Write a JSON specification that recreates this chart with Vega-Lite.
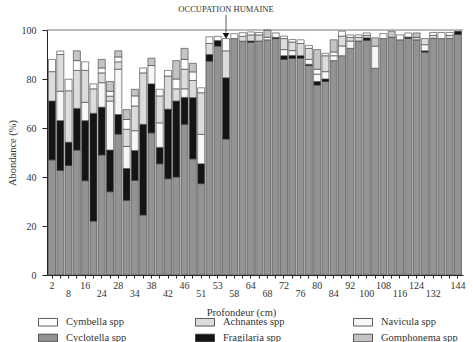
{
  "$schema": "https://vega.github.io/schema/vega-lite/v6.json",
  "width": 416,
  "height": 245,
  "autosize": {"type": "none"},
  "padding": {"left": 47, "top": 30, "right": 10, "bottom": 67},
  "background": "white",
  "config": {
    "view": {"stroke": null},
    "font": "Liberation Serif",
    "axis": {"labelFont": "Liberation Serif", "titleFont": "Liberation Serif", "labelColor": "#333", "titleColor": "#333", "domainColor": "#222", "tickColor": "#222", "titleFontWeight": "normal", "grid": false, "labelFontSize": 10, "titleFontSize": 10.5}
  },
  "datasets": {
    "samples": [
      {"depth": 2, "Cyclotella spp": 47, "Fragilaria spp": 24, "Achnantes spp": 12, "Cymbella spp": 5},
      {"depth": 5, "Cyclotella spp": 42.7, "Fragilaria spp": 20.3, "Navicula spp": 12, "Achnantes spp": 15, "Cymbella spp": 1.4},
      {"depth": 8, "Cyclotella spp": 44.7, "Fragilaria spp": 9.5, "Achnantes spp": 21, "Cymbella spp": 4.7},
      {"depth": 12, "Cyclotella spp": 51, "Fragilaria spp": 17, "Achnantes spp": 15.5, "Cymbella spp": 4, "Gomphonema spp": 4},
      {"depth": 16, "Cyclotella spp": 38.5, "Fragilaria spp": 24.5, "Navicula spp": 7.5, "Achnantes spp": 13, "Cymbella spp": 3.5},
      {"depth": 20, "Cyclotella spp": 22, "Fragilaria spp": 44, "Achnantes spp": 10, "Cymbella spp": 2},
      {"depth": 24, "Cyclotella spp": 49, "Fragilaria spp": 19.5, "Navicula spp": 10, "Achnantes spp": 4, "Cymbella spp": 2, "Gomphonema spp": 3.5},
      {"depth": 26, "Cyclotella spp": 34, "Fragilaria spp": 17, "Navicula spp": 20, "Achnantes spp": 2, "Cymbella spp": 2, "Gomphonema spp": 4},
      {"depth": 28, "Cyclotella spp": 57.5, "Fragilaria spp": 8, "Navicula spp": 18.5, "Achnantes spp": 3, "Cymbella spp": 2, "Gomphonema spp": 2.5},
      {"depth": 31, "Cyclotella spp": 30.5, "Fragilaria spp": 13, "Navicula spp": 9, "Achnantes spp": 7, "Cymbella spp": 4, "Gomphonema spp": 4},
      {"depth": 34, "Cyclotella spp": 38.6, "Fragilaria spp": 12.2, "Navicula spp": 8.1, "Achnantes spp": 10.1, "Cymbella spp": 4.1, "Gomphonema spp": 2.7},
      {"depth": 36, "Cyclotella spp": 24.5, "Fragilaria spp": 37, "Achnantes spp": 21, "Cymbella spp": 2},
      {"depth": 38, "Cyclotella spp": 58, "Fragilaria spp": 20, "Navicula spp": 7.5, "Gomphonema spp": 3},
      {"depth": 40, "Cyclotella spp": 45.4, "Fragilaria spp": 6.7, "Navicula spp": 10, "Achnantes spp": 11, "Cymbella spp": 2.7},
      {"depth": 42, "Cyclotella spp": 39.3, "Fragilaria spp": 28.4, "Achnantes spp": 13.5, "Cymbella spp": 2.3},
      {"depth": 44, "Cyclotella spp": 40, "Fragilaria spp": 31, "Achnantes spp": 5, "Cymbella spp": 4, "Gomphonema spp": 7.5},
      {"depth": 46, "Cyclotella spp": 61.5, "Fragilaria spp": 11, "Navicula spp": 3.5, "Achnantes spp": 8, "Cymbella spp": 4, "Gomphonema spp": 4.5},
      {"depth": 48, "Cyclotella spp": 47.4, "Fragilaria spp": 25, "Achnantes spp": 7, "Cymbella spp": 3.5, "Gomphonema spp": 3.5},
      {"depth": 51, "Cyclotella spp": 37.3, "Fragilaria spp": 8.1, "Navicula spp": 12, "Achnantes spp": 17, "Cymbella spp": 2},
      {"depth": 52, "Cyclotella spp": 87.3, "Fragilaria spp": 2.7, "Achnantes spp": 4.5, "Cymbella spp": 2.7},
      {"depth": 53, "Cyclotella spp": 93.4, "Fragilaria spp": 2.3, "Cymbella spp": 1.7},
      {"depth": 55, "Cyclotella spp": 55.5, "Fragilaria spp": 25, "Achnantes spp": 11, "Cymbella spp": 5},
      {"depth": 58, "Cyclotella spp": 96.5, "Cymbella spp": 2},
      {"depth": 61, "Cyclotella spp": 95.4, "Achnantes spp": 2, "Cymbella spp": 1.5},
      {"depth": 64, "Cyclotella spp": 95, "Fragilaria spp": 0.5, "Achnantes spp": 2.5, "Cymbella spp": 1.2},
      {"depth": 66, "Cyclotella spp": 95.5, "Achnantes spp": 2.5, "Cymbella spp": 1},
      {"depth": 68, "Cyclotella spp": 96, "Cymbella spp": 1, "Gomphonema spp": 3},
      {"depth": 70, "Cyclotella spp": 96.5, "Fragilaria spp": 0.5, "Cymbella spp": 1.8},
      {"depth": 72, "Cyclotella spp": 88, "Fragilaria spp": 1.5, "Navicula spp": 2.5, "Achnantes spp": 4.5, "Cymbella spp": 1},
      {"depth": 74, "Cyclotella spp": 88.4, "Fragilaria spp": 1.2, "Navicula spp": 2, "Achnantes spp": 3.5, "Cymbella spp": 1},
      {"depth": 76, "Cyclotella spp": 88.5, "Fragilaria spp": 1, "Achnantes spp": 5, "Cymbella spp": 1.5},
      {"depth": 78, "Cyclotella spp": 85.5, "Fragilaria spp": 0.5, "Navicula spp": 2, "Achnantes spp": 4.5, "Cymbella spp": 1.2},
      {"depth": 80, "Cyclotella spp": 77.5, "Fragilaria spp": 1.5, "Navicula spp": 3, "Cymbella spp": 2, "Gomphonema spp": 8},
      {"depth": 82, "Cyclotella spp": 79, "Fragilaria spp": 1, "Navicula spp": 3, "Achnantes spp": 6.5, "Cymbella spp": 1},
      {"depth": 84, "Cyclotella spp": 87.5, "Navicula spp": 2, "Cymbella spp": 1.5, "Gomphonema spp": 5},
      {"depth": 88, "Cyclotella spp": 89.5, "Navicula spp": 4, "Achnantes spp": 4, "Cymbella spp": 2},
      {"depth": 92, "Cyclotella spp": 92.5, "Navicula spp": 3, "Achnantes spp": 1.5, "Cymbella spp": 1},
      {"depth": 96, "Cyclotella spp": 95.5, "Achnantes spp": 1.5, "Cymbella spp": 1},
      {"depth": 100, "Cyclotella spp": 95.8, "Fragilaria spp": 1, "Achnantes spp": 1, "Cymbella spp": 1},
      {"depth": 104, "Cyclotella spp": 84.4, "Navicula spp": 9, "Gomphonema spp": 3.4},
      {"depth": 108, "Cyclotella spp": 96.5, "Cymbella spp": 2},
      {"depth": 112, "Cyclotella spp": 97, "Gomphonema spp": 2.5},
      {"depth": 116, "Cyclotella spp": 96, "Cymbella spp": 2},
      {"depth": 120, "Cyclotella spp": 96.6, "Fragilaria spp": 0.5, "Cymbella spp": 1.7},
      {"depth": 124, "Cyclotella spp": 96, "Achnantes spp": 1, "Gomphonema spp": 1.8},
      {"depth": 128, "Cyclotella spp": 91, "Fragilaria spp": 0.5, "Navicula spp": 2.5, "Achnantes spp": 2.5},
      {"depth": 132, "Cyclotella spp": 96.6, "Achnantes spp": 1.2, "Cymbella spp": 1.2},
      {"depth": 136, "Cyclotella spp": 96.5, "Cymbella spp": 2.5},
      {"depth": 140, "Cyclotella spp": 96.5, "Achnantes spp": 1.3, "Cymbella spp": 1.2},
      {"depth": 144, "Cyclotella spp": 98.2, "Fragilaria spp": 1.3}
    ],
    "taxa": [
      {"taxon": "Cyclotella spp", "rank": 1},
      {"taxon": "Fragilaria spp", "rank": 2},
      {"taxon": "Navicula spp", "rank": 3},
      {"taxon": "Achnantes spp", "rank": 4},
      {"taxon": "Cymbella spp", "rank": 5},
      {"taxon": "Gomphonema spp", "rank": 6}
    ],
    "note": [{"depth": 55, "label": "OCCUPATION HUMAINE"}]
  },
  "data": {"name": "samples"},
  "layer": [
    {
      "transform": [
        {"fold": ["Cyclotella spp", "Fragilaria spp", "Navicula spp", "Achnantes spp", "Cymbella spp", "Gomphonema spp"], "as": ["taxon", "value"]},
        {"filter": "datum.value > 0"},
        {"lookup": "taxon", "from": {"data": {"name": "taxa"}, "key": "taxon", "fields": ["rank"]}}
      ],
      "mark": {"type": "bar", "stroke": "#3a3a3a", "strokeWidth": 0.6},
      "encoding": {
        "x": {
          "field": "depth", "type": "ordinal",
          "scale": {"paddingInner": 0.15, "paddingOuter": 0.18},
          "axis": {
            "title": "Profondeur (cm)", "labelAngle": 0, "tickSize": 3, "labelPadding": 2, "labelOverlap": false, "labelLineHeight": 8, "titlePadding": 9, "titleX": 194,
            "labelExpr": "indexof([8,24,34,42,51,58,68,76,84,100,116,132], datum.value) >= 0 ? ['', datum.label] : (indexof([2,16,28,38,46,53,64,72,80,92,108,124,144], datum.value) >= 0 ? datum.label : '')"
          }
        },
        "y": {
          "field": "value", "type": "quantitative", "stack": "zero",
          "scale": {"domain": [0, 100], "nice": false},
          "axis": {"title": "Abondance (%)", "values": [0, 10, 20, 30, 40, 50, 60, 70, 80, 90, 100], "tickSize": 5, "labelPadding": 6, "titlePadding": 4}
        },
        "color": {
          "field": "taxon", "type": "nominal",
          "scale": {
            "domain": ["Cymbella spp", "Achnantes spp", "Navicula spp", "Cyclotella spp", "Fragilaria spp", "Gomphonema spp"],
            "range": ["#ffffff", "#dcdcdc", "#f7f7f7", "#939393", "#141414", "#c4c4c4"]
          },
          "legend": {
            "orient": "none", "legendX": -9, "legendY": 282, "direction": "horizontal", "columns": 3, "title": null,
            "symbolType": "M-1,-0.4H1V0.4H-1Z", "symbolSize": 361, "symbolStrokeColor": "#333", "symbolStrokeWidth": 0.8, "symbolOpacity": 1,
            "labelFont": "Liberation Serif", "labelFontSize": 10.5, "labelColor": "#333", "labelOffset": 8,
            "columnPadding": 66, "rowPadding": 0, "gridAlign": "each"
          }
        },
        "order": {"field": "rank", "type": "quantitative", "sort": "ascending"}
      }
    },
    {
      "data": {"name": "note"},
      "mark": {"type": "rule", "color": "#555", "strokeWidth": 0.8},
      "encoding": {"y": {"datum": 100}}
    },
    {
      "data": {"name": "note"},
      "mark": {"type": "text", "font": "Liberation Serif", "fontSize": 8.5, "baseline": "middle", "color": "#333"},
      "encoding": {"x": {"field": "depth", "type": "ordinal"}, "y": {"datum": 108.5}, "text": {"field": "label"}}
    },
    {
      "data": {"name": "note"},
      "mark": {"type": "rule", "color": "#333", "strokeWidth": 0.8},
      "encoding": {"x": {"field": "depth", "type": "ordinal"}, "y": {"datum": 99}, "y2": {"datum": 106.2}}
    },
    {
      "data": {"name": "note"},
      "mark": {"type": "point", "shape": "triangle-down", "filled": true, "color": "#111", "size": 45, "opacity": 1},
      "encoding": {"x": {"field": "depth", "type": "ordinal"}, "y": {"datum": 97.6}}
    }
  ]
}
